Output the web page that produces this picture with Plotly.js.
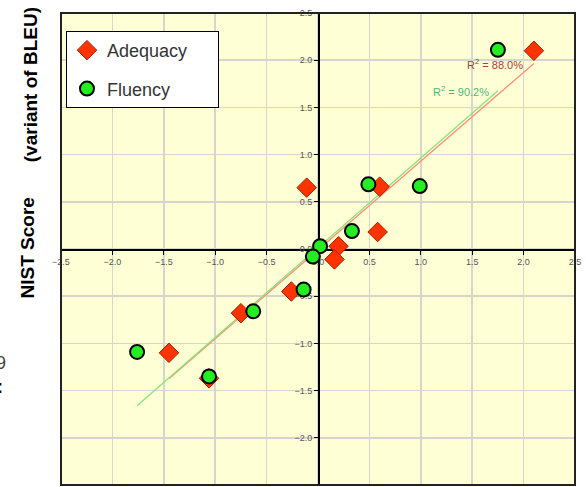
<!DOCTYPE html>
<html>
<head>
<meta charset="utf-8">
<script src="https://cdn.plot.ly/plotly-3.0.1.min.js"></script>
<style>html,body{margin:0;padding:0;background:#fff;}#chart{width:586px;height:487px;}</style>
</head>
<body>
<div id="chart"></div>
<script>
// Data (standardised human judgement vs NIST score)
var adequacyX = [2.10, -0.11, 0.60, 0.58, 0.20, 0.16, -0.26, -0.75, -1.45, -1.06];
var adequacyY = [2.10, 0.65, 0.66, 0.18, 0.03, -0.11, -0.45, -0.68, -1.10, -1.37];
var fluencyX = [1.75, 0.49, 0.99, 0.33, 0.02, -0.05, -0.14, -0.63, -1.76, -1.06];
var fluencyY = [2.11, 0.685, 0.667, 0.19, 0.03, -0.08, -0.43, -0.66, -1.09, -1.35];
var seriesNames = ["Adequacy", "Fluency"];
var r2Labels = ["R<sup>2</sup> = 88.0%", "R<sup>2</sup> = 90.2%"];
var tickVals = [-2.5, -2.0, -1.5, -1.0, -0.5, 0.0, 0.5, 1.0, 1.5, 2.0, 2.5];

function fit(xs, ys) {
  var n = xs.length, mx = 0, my = 0;
  for (var i = 0; i < n; i++) { mx += xs[i]; my += ys[i]; }
  mx /= n; my /= n;
  var sxy = 0, sxx = 0;
  for (var j = 0; j < n; j++) { sxy += (xs[j]-mx)*(ys[j]-my); sxx += (xs[j]-mx)*(xs[j]-mx); }
  var b = sxy / sxx, a = my - b*mx;
  var x0 = Math.min.apply(null, xs), x1 = Math.max.apply(null, xs);
  return {x: [x0, x1], y: [a + b*x0, a + b*x1]};
}
var fa = fit(adequacyX, adequacyY);
var ff = fit(fluencyX, fluencyY);

var pad = '\u00A0\u00A0\u00A0\u00A0\u00A0';
var traces = [
  {x: fa.x, y: fa.y, mode: 'lines', line: {color: '#FF8C7C', width: 1.3}, showlegend: false, hoverinfo: 'skip'},
  {x: ff.x, y: ff.y, mode: 'lines', line: {color: '#88E478', width: 1.3}, showlegend: false, hoverinfo: 'skip'},
  {x: adequacyX, y: adequacyY, name: seriesNames[0] + pad, mode: 'markers', legendgroup: 'a',
   marker: {symbol: 'diamond', size: 15, color: '#FF3300', line: {color: '#A02000', width: 1}}},
  {x: fluencyX, y: fluencyY, name: seriesNames[1] + pad, mode: 'markers', legendgroup: 'f',
   marker: {symbol: 'circle', size: 14, color: '#22EE22', line: {color: '#000000', width: 2}}}
];

var axisCommon = {
  range: [-2.5, 2.5], tickvals: tickVals, tickformat: '.1f',
  showgrid: true, gridcolor: '#D6D6CC', gridwidth: 1.6,
  zeroline: false, showline: true, linecolor: '#000', linewidth: 1.5,
  ticks: 'outside', ticklen: 4, tickcolor: '#000', tickwidth: 1,
  tickfont: {family: 'Liberation Sans, Arial', size: 9, color: '#555'},
  anchor: 'free', position: 0.5, layer: 'below traces', fixedrange: true
};

var layout = {
  width: 586, height: 487,
  margin: {l: 61, r: 11, t: 13, b: 2},
  paper_bgcolor: '#FFFFFF', plot_bgcolor: '#FFFFD6',
  xaxis: Object.assign({}, axisCommon, {side: 'bottom'}),
  yaxis: Object.assign({}, axisCommon, {side: 'left'}),
  showlegend: true,
  legend: {x: 0.0097, y: 0.962, xanchor: 'left', yanchor: 'top', bgcolor: '#FFFFFF',
    bordercolor: '#000', borderwidth: 1, tracegroupgap: 12,
    font: {family: 'Liberation Sans, Arial', size: 18, color: '#333'}},
  shapes: [{type: 'rect', xref: 'paper', yref: 'paper', x0: 0, x1: 1, y0: 0, y1: 1,
    line: {color: '#222', width: 2}, layer: 'above'}],
  annotations: [
    {text: r2Labels[0], x: 1.72, y: 1.96, xref: 'x', yref: 'y', showarrow: false,
     font: {family: 'Liberation Sans, Arial', size: 11, color: '#A0443A'}},
    {text: r2Labels[1], x: 1.39, y: 1.67, xref: 'x', yref: 'y', showarrow: false,
     font: {family: 'Liberation Sans, Arial', size: 11, color: '#4CB878'}},
    {text: '<b>NIST Score</b>', xref: 'paper', yref: 'paper', x: 0, xshift: -33, y: 0.501,
     xanchor: 'center', yanchor: 'middle',
     textangle: -90, showarrow: false, font: {family: 'Liberation Sans, Arial', size: 19, color: '#000'}},
    {text: '<b>(variant of BLEU)</b>', xref: 'paper', yref: 'paper', x: 0, xshift: -31, y: 0.847,
     xanchor: 'center', yanchor: 'middle',
     textangle: -90, showarrow: false, font: {family: 'Liberation Sans, Arial', size: 19, color: '#000'}},
    {text: '9', xref: 'paper', yref: 'paper', x: 0, xshift: -53, xanchor: 'right', yanchor: 'middle', y: 0.258,
     showarrow: false, font: {family: 'Liberation Sans, Arial', size: 18, color: '#444'}},
    {text: '<b>:</b>', xref: 'paper', yref: 'paper', x: 0, xshift: -56, xanchor: 'right', yanchor: 'middle', y: 0.208,
     showarrow: false, font: {family: 'Liberation Sans, Arial', size: 18, color: '#000'}}
  ]
};

Plotly.newPlot('chart', traces, layout, {displayModeBar: false, staticPlot: true});
</script>
</body>
</html>
